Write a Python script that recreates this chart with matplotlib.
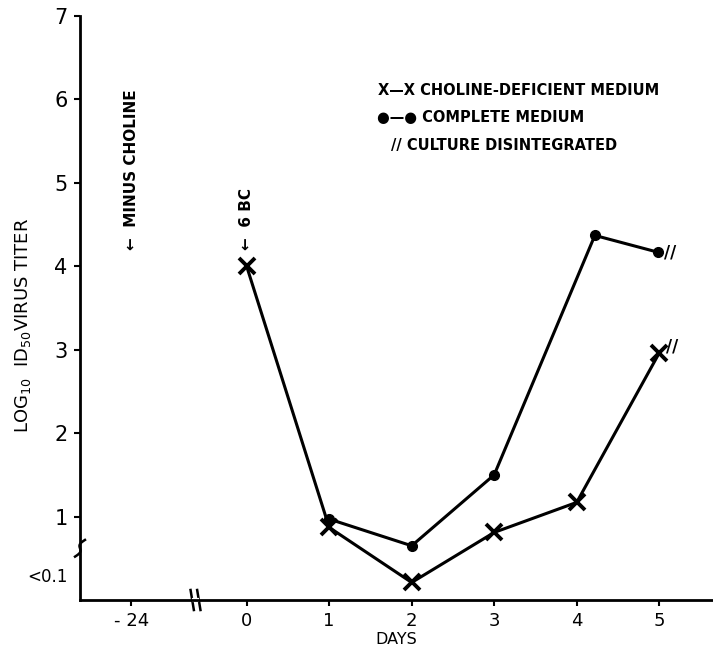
import matplotlib
matplotlib.use("Agg")
import matplotlib.pyplot as plt
import numpy as np

plt.rcParams['font.family'] = ['DejaVu Sans']

# Data (x positions in days; -24 h drawn at a compressed position)
deficient_days = [0, 1, 2, 3, 4, 5]
deficient_titer = [4.0, 0.87, 0.21, 0.81, 1.17, 2.96]
complete_days = [1, 2, 3, 4.22, 4.98]
complete_titer = [0.97, 0.65, 1.50, 4.37, 4.17]

xtick_pos = [-1.4, 0, 1, 2, 3, 4, 5]
xtick_labels = ["- 24", "0", "1", "2", "3", "4", "5"]
ytick_pos = [0.3, 1, 2, 3, 4, 5, 6, 7]
ytick_labels = ["<0.1", "1", "2", "3", "4", "5", "6", "7"]

fig = plt.figure(figsize=(7.13, 6.52), dpi=100)
ax = fig.add_axes([80/713, 52/652, 632/713, 584/652])
ax.set_xlim(-2.02, 5.64)
ax.set_ylim(0, 7)

for s in ['top', 'right']:
    ax.spines[s].set_visible(False)
for s in ['left', 'bottom']:
    ax.spines[s].set_linewidth(2)

ax.plot(deficient_days, deficient_titer, color='black', lw=2.2,
        marker='x', markersize=11, markeredgewidth=2.8, clip_on=False)
ax.plot(complete_days, complete_titer, color='black', lw=2.2,
        marker='o', markersize=7, clip_on=False)

# culture disintegrated marks
ax.text(complete_days[-1] + 0.08, complete_titer[-1], "//", fontsize=12,
        fontweight='bold', va='center', ha='left')
ax.text(deficient_days[-1] + 0.08, deficient_titer[-1] + 0.08, "//", fontsize=12,
        fontweight='bold', va='center', ha='left')

ax.set_xticks(xtick_pos)
ax.set_xticklabels(xtick_labels, fontsize=13)
ax.set_yticks(ytick_pos)
ax.set_yticklabels(ytick_labels, fontsize=15)
ax.tick_params(axis='both', direction='out', length=4, width=1.5, pad=5)
ax.yaxis.get_major_ticks()[0].tick1line.set_visible(False)
ax.get_yticklabels()[0].set_fontsize(12)

ax.set_xlabel("DAYS", fontsize=11.5, labelpad=1)
ax.set_ylabel(r"LOG$_{10}$  ID$_{50}$VIRUS TITER", fontsize=13)
ax.yaxis.set_label_coords(-0.075, 0.47)

# annotations
ax.text(-1.4, 4.2, "\u2190  MINUS CHOLINE", rotation=90, ha='center', va='bottom',
        fontsize=11, fontweight='bold')
ax.text(0, 4.2, "\u2190  6 BC", rotation=90, ha='center', va='bottom',
        fontsize=11, fontweight='bold')

# legend as text
ax.text(0.472, 0.873, "X\u2014X CHOLINE-DEFICIENT MEDIUM", transform=ax.transAxes,
        fontsize=10.5, fontweight='bold', va='center', ha='left')
ax.text(0.470, 0.827, "\u25CF\u2014\u25CF COMPLETE MEDIUM", transform=ax.transAxes,
        fontsize=10.5, fontweight='bold', va='center', ha='left')
ax.text(0.492, 0.779, "// CULTURE DISINTEGRATED", transform=ax.transAxes,
        fontsize=10.5, fontweight='bold', va='center', ha='left')

# axis break marks
bx = -0.62
ax.plot([bx - 0.06, bx - 0.02], [0.12, -0.12], color='black', lw=1.8, clip_on=False)
ax.plot([bx + 0.02, bx + 0.06], [0.12, -0.12], color='black', lw=1.8, clip_on=False)
ax.plot([bx - 0.02, bx + 0.02], [0, 0], color='white', lw=3, clip_on=False)
t = np.linspace(0, 1, 30)
wx = -2.02 + 0.06 * (t - 0.5) * 2 + 0.03 * np.sin(t * 2 * np.pi)
wy = 0.52 + 0.2 * t
ax.plot(wx, wy, color='black', lw=1.8, clip_on=False)

fig.savefig("out.png", dpi=100)
